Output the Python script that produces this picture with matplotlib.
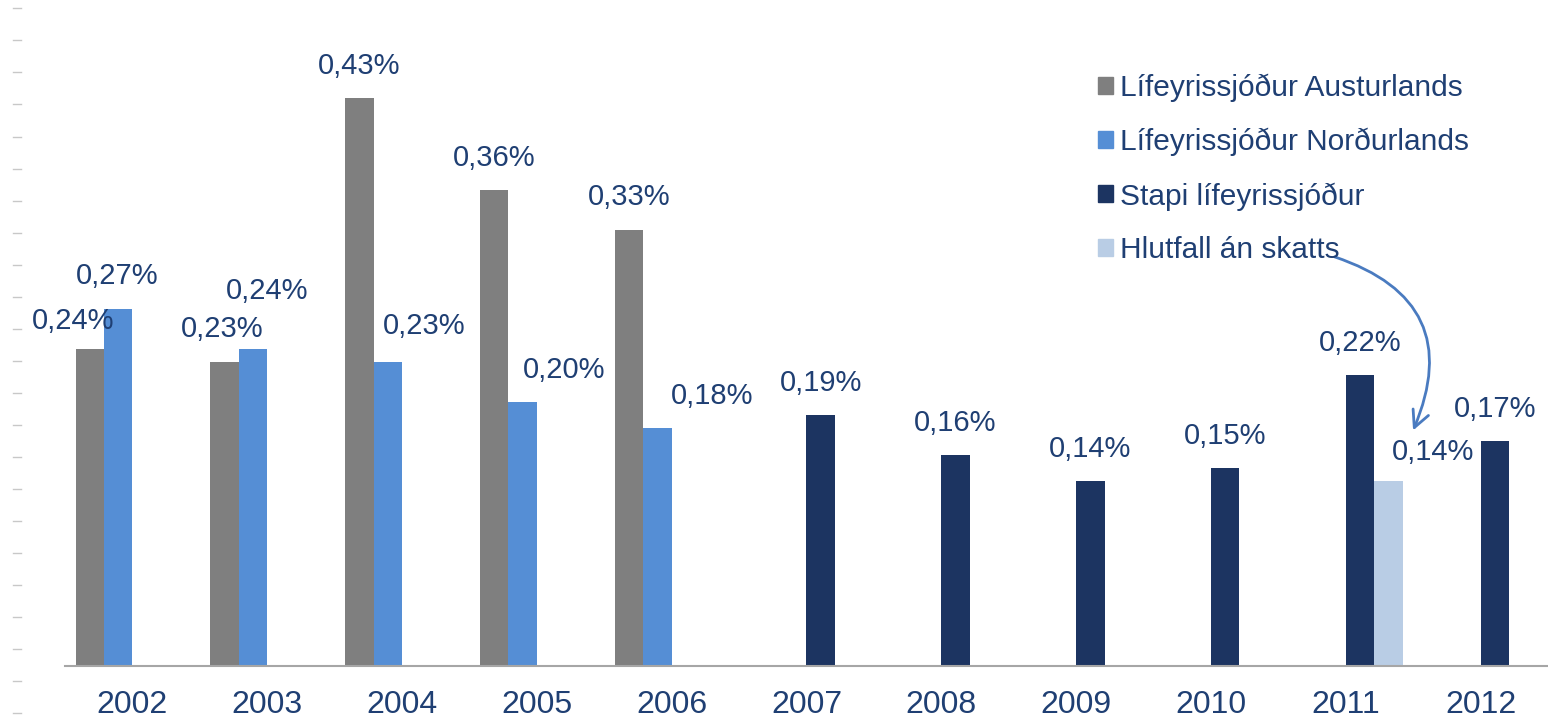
import numpy as np
import matplotlib.pyplot as plt
from matplotlib.patches import Patch
from matplotlib.lines import Line2D

# gögn
years = ['2002', '2003', '2004', '2005', '2006', '2007', '2008', '2009', '2010', '2011', '2012']
austurland = [0.24, 0.23, 0.43, 0.36, 0.33, None, None, None, None, None, None]
nordurland = [0.27, 0.24, 0.23, 0.20, 0.18, None, None, None, None, None, None]
stapi = [None, None, None, None, None, 0.19, 0.16, 0.14, 0.15, 0.22, 0.17]
an_skatts = [None, None, None, None, None, None, None, None, None, 0.14, None]
names = ['Lífeyrissjóður Austurlands', 'Lífeyrissjóður Norðurlands',
         'Stapi lífeyrissjóður', 'Hlutfall án skatts']

colors = ['#7F7F7F', '#558ED5', '#1C3461', '#B9CDE5']
txt_col = '#1F3F73'

# label offsets in pixels (dx, dy above bar top), per series
offs = [
  [(-12, 28), (-2, 33), (0, 32), (0, 32), (0, 33)] + [(0, 32)] * 6,
  [(-1, 33), (10, 58), (26, 36), (30, 32), (39, 32)] + [(0, 32)] * 6,
  [(0, 32)] * 11,
  [(0, 32)] * 9 + [(32, 29), (0, 32)],
]

plt.rcParams['font.family'] = ['Liberation Sans', 'DejaVu Sans']

fig = plt.figure(figsize=(15.48, 7.21), dpi=100)
ax = fig.add_axes([65 / 1548, 55 / 721, 1483 / 1548, 666 / 721])

x = np.arange(len(years))
w = 0.211
series = [austurland, nordurland, stapi, an_skatts]
for i, s in enumerate(series):
  xs = [x[j] + (i - 1.5) * w for j in range(len(s)) if s[j] is not None]
  vs = [v for v in s if v is not None]
  idx = [j for j in range(len(s)) if s[j] is not None]
  ax.bar(xs, vs, width=w, align='center', color=colors[i])
  for xx, v, j in zip(xs, vs, idx):
    dx, dy = offs[i][j]
    ax.annotate(('%.2f%%' % v).replace('.', ','), (xx, v), xytext=(dx, dy * 0.72),
                textcoords='offset points', ha='center', va='center',
                fontsize=21, color=txt_col)

ax.set_xlim(-0.5, 10.5)
ax.set_ylim(0, 0.504)
ax.set_yticks([])
ax.set_xticks(x)
ax.set_xticklabels(years, fontsize=23, color=txt_col)
ax.tick_params(axis='x', length=0, pad=17.5)
for sp in ['top', 'right', 'left']:
  ax.spines[sp].set_visible(False)
ax.spines['bottom'].set_color('#A6A6A6')
ax.spines['bottom'].set_linewidth(1.5)

# litlu strikin vinstra megin
for k in range(23):
  yy = 1 - (8.3 + 32.05 * k) / 721
  fig.add_artist(Line2D([13 / 1548, 21 / 1548], [yy, yy], color='#C8C8C8', lw=1))

handles = [Patch(color=c) for c in colors]
leg = ax.legend(handles, names, loc='upper left', bbox_to_anchor=(1071 / 1548, 1 - 47 / 721),
                bbox_transform=fig.transFigure, frameon=False, fontsize=21.5,
                handlelength=0.5, handleheight=0.5, handletextpad=0.25, labelspacing=0.86)
for t in leg.get_texts():
  t.set_color(txt_col)

# örin
ax.annotate('', xy=(1412, 721 - 433), xycoords='figure pixels',
            xytext=(1332, 721 - 256), textcoords='figure pixels',
            arrowprops=dict(arrowstyle='->', color='#4A7BC0', lw=2,
                            connectionstyle='arc3,rad=-0.55', mutation_scale=30))

plt.savefig('out.png', dpi=100)
